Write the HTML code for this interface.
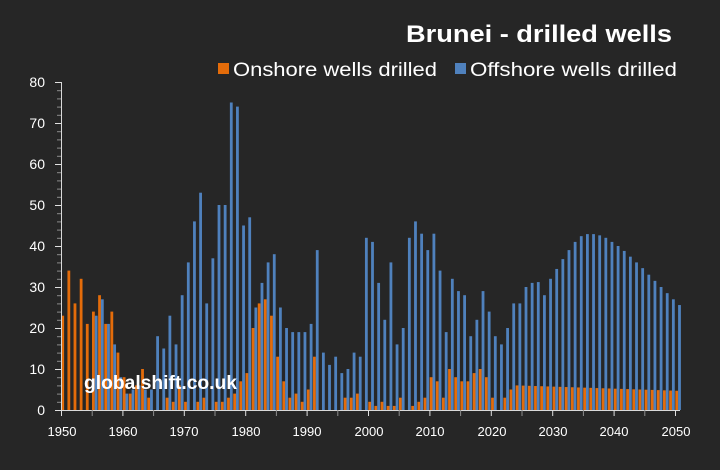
<!DOCTYPE html>
<html><head><meta charset="utf-8"><style>
html,body{margin:0;padding:0;background:#262626;}
svg{display:block;font-family:"Liberation Sans",sans-serif;}
</style></head><body>
<svg id="s" width="720" height="470" viewBox="0 0 720 470" xmlns="http://www.w3.org/2000/svg">
<rect width="720" height="470" fill="#262626"/>
<text x="406" y="42" fill="#fff" font-weight="bold" font-size="24" textLength="266" lengthAdjust="spacingAndGlyphs">Brunei - drilled wells</text>
<rect x="218" y="63" width="11" height="11" fill="#e46c0a"/>
<text x="233" y="76" fill="#fff" font-size="19" textLength="204" lengthAdjust="spacingAndGlyphs">Onshore wells drilled</text>
<rect x="455" y="63" width="11" height="11" fill="#4f81bd"/>
<text x="470" y="76" fill="#fff" font-size="19" textLength="207" lengthAdjust="spacingAndGlyphs">Offshore wells drilled</text>
<g id="bars"></g>
<g id="ax" stroke="#bfbfbf"></g>
<g fill="#fff" font-size="14" text-anchor="end">
<text x="45" y="415">0</text><text x="45" y="374">10</text><text x="45" y="333">20</text><text x="45" y="292">30</text><text x="45" y="251">40</text><text x="45" y="210">50</text><text x="45" y="169">60</text><text x="45" y="128">70</text><text x="45" y="87">80</text>
</g>
<g fill="#fff" font-size="13" text-anchor="middle">
<text x="62" y="436">1950</text><text x="123" y="436">1960</text><text x="184" y="436">1970</text><text x="246" y="436">1980</text><text x="307" y="436">1990</text><text x="369" y="436">2000</text><text x="430" y="436">2010</text><text x="492" y="436">2020</text><text x="553" y="436">2030</text><text x="614" y="436">2040</text><text x="676" y="436">2050</text>
</g>
<text x="84" y="389" fill="#fff" font-weight="bold" font-size="19" textLength="153" lengthAdjust="spacingAndGlyphs">globalshift.co.uk</text>
</svg>
<script>
var on=[23,34,26,32,21,24,28,21,24,14,8,4,6,10,3,0,0,3,2,6,2,0,2,3,0,2,2,3,4,7,9,20,26,27,23,13,7,3,4,2,5,13,0,0,0,0,3,3,4,0,2,1,2,1,1,3,0,1,2,3,8,7,3,10,8,7,7,9,10,8,3,0,3,5];
var off=[0,0,0,0,0,23,27,21,16,8,4,5,6,5,5,18,15,23,16,28,36,46,53,26,37,50,50,75,74,45,47,25,31,36,38,25,20,19,19,19,21,39,14,11,13,9,10,14,13,42,41,31,22,36,16,20,42,46,43,39,43,34,19,32,29,28,18,22,29,24,18,16,20,26,26,30,31,31.2,28,32,34.4,36.8,39,41,42.4,42.9,42.9,42.6,42,41,40,38.8,37.4,36,34.6,33,31.5,30,28.5,27,25.6];
for(var i=74;i<=100;i++)on[i]=6-(i-74)*1.3/26;
var ns="http://www.w3.org/2000/svg",g=document.getElementById("bars"),a=document.getElementById("ax");
function r(p,x,y,w,h,f){var e=document.createElementNS(ns,"rect");e.setAttribute("x",x);e.setAttribute("y",y);e.setAttribute("width",w);e.setAttribute("height",h);e.setAttribute("fill",f);p.appendChild(e);}
function l(x1,y1,x2,y2,c){var e=document.createElementNS(ns,"line");e.setAttribute("x1",x1);e.setAttribute("y1",y1);e.setAttribute("x2",x2);e.setAttribute("y2",y2);e.setAttribute("stroke",c);a.appendChild(e);}
for(var i=0;i<=100;i++){var x=61+6.14*i;var o=on[i]||0,b=off[i]||0;
if(o>0)r(g,x+0.3,410-o*4.1,2.8,o*4.1,"#e46c0a");
if(b>0)r(g,x+3.1,410-b*4.1,2.8,b*4.1,"#4f81bd");}
l(61.5,82,61.5,410,"#d9d9d9");l(61,410.5,680,410.5,"#d9d9d9");
for(var k=0;k<=40;k++){var y=410-k*8.2+0.5;l(k%5==0?55:57,y,61,y,k%5==0?"#e0e0e0":"#8c8c8c");}
for(var k=0;k<=20;k++){var x=61+30.7*k+0.5;l(x,410,x,416,k%2==0?"#e0e0e0":"#8c8c8c");}
</script>
</body></html>
